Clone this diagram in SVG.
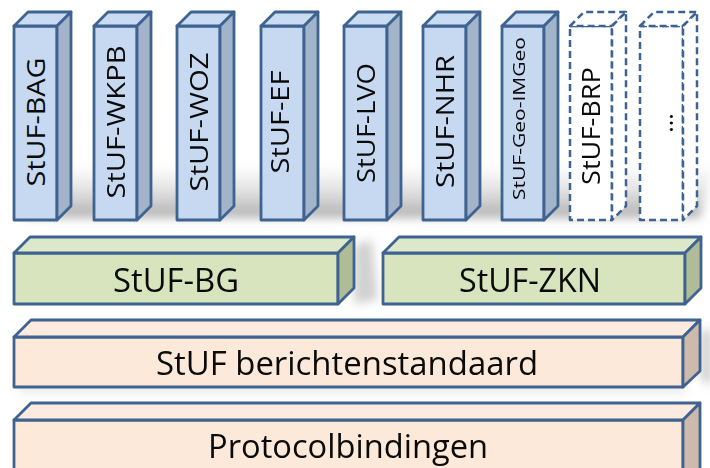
<svg xmlns="http://www.w3.org/2000/svg" width="710" height="468" viewBox="0 0 710 468">
  <defs>
    <style>
      .ln { stroke: #3F6390; stroke-width: 2.8; stroke-linejoin: round; }
      .dash { stroke: #3F6390; stroke-width: 2.5; stroke-dasharray: 7 4; fill: #FFFFFF; stroke-linejoin: round; }
      .cf { fill: #C6D9F1; }
      .ct { fill: #CADCF2; }
      .cs { fill: #A2B3CA; }
      .gf { fill: #D7E4BD; }
      .gt { fill: #DDE8C8; }
      .gs { fill: #B0BB98; }
      .pf { fill: #FDE9D9; }
      .pt { fill: #FCEBDE; }
      .ps { fill: #CDBAAC; }
      .t { font-family: "Open Sans", "Liberation Sans", sans-serif; fill: #0A0A0A; text-anchor: middle; }
      .ct25 { font-size: 25px; }
      .bt { font-size: 32px; }
    </style>
    <filter id="blur" x="-20%" y="-50%" width="140%" height="200%">
      <feGaussianBlur stdDeviation="5"/>
    </filter>
    <linearGradient id="shg" x1="0" y1="1" x2="0" y2="0">
      <stop offset="0" stop-color="#7a7a7a" stop-opacity="0.6"/>
      <stop offset="0.6" stop-color="#8a8a8a" stop-opacity="0.2"/>
      <stop offset="1" stop-color="#8a8a8a" stop-opacity="0"/>
    </linearGradient>
  </defs>

  <rect width="710" height="468" fill="#FFFFFF"/>

  <g id="shadows" filter="url(#blur)">
    <polygon points="24,218 700,218 712,165 44,165" fill="url(#shg)"/>
    <polygon points="354,245 372,240 378,300 354,304" fill="#9a9a9a" opacity="0.45"/>
    <polygon points="700,330 712,330 712,385 700,380" fill="#9a9a9a" opacity="0.45"/>
    <rect x="18" y="386" width="668" height="6" fill="#9a9a9a" opacity="0.3"/>
  </g>

  <g id="col-bag">
    <rect class="cf ln" x="14" y="26" width="43" height="194"/>
    <polygon class="ct ln" points="14,26 28,12 71,12 57,26"/>
    <polygon class="cs ln" points="57,26 71,12 71,206 57,220"/>
    <text class="t ct25" transform="translate(44.5,122) rotate(-90)" textLength="129" lengthAdjust="spacingAndGlyphs">StUF-BAG</text>
  </g>
  <g id="col-wkpb">
    <rect class="cf ln" x="94" y="26" width="43" height="194"/>
    <polygon class="ct ln" points="94,26 108,12 151,12 137,26"/>
    <polygon class="cs ln" points="137,26 151,12 151,206 137,220"/>
    <text class="t ct25" transform="translate(124.5,122) rotate(-90)" textLength="153" lengthAdjust="spacingAndGlyphs">StUF-WKPB</text>
  </g>
  <g id="col-woz">
    <rect class="cf ln" x="177" y="26" width="43" height="194"/>
    <polygon class="ct ln" points="177,26 191,12 234,12 220,26"/>
    <polygon class="cs ln" points="220,26 234,12 234,206 220,220"/>
    <text class="t ct25" transform="translate(207.5,122) rotate(-90)" textLength="139" lengthAdjust="spacingAndGlyphs">StUF-WOZ</text>
  </g>
  <g id="col-ef">
    <rect class="cf ln" x="261" y="26" width="43" height="194"/>
    <polygon class="ct ln" points="261,26 275,12 318,12 304,26"/>
    <polygon class="cs ln" points="304,26 318,12 318,206 304,220"/>
    <text class="t ct25" transform="translate(288.5,122) rotate(-90)" textLength="103" lengthAdjust="spacingAndGlyphs">StUF-EF</text>
  </g>
  <g id="col-lvo">
    <rect class="cf ln" x="344" y="26" width="43" height="194"/>
    <polygon class="ct ln" points="344,26 358,12 401,12 387,26"/>
    <polygon class="cs ln" points="387,26 401,12 401,206 387,220"/>
    <text class="t ct25" transform="translate(374.5,123) rotate(-90)" textLength="120" lengthAdjust="spacingAndGlyphs">StUF-LVO</text>
  </g>
  <g id="col-nhr">
    <rect class="cf ln" x="423" y="26" width="43" height="194"/>
    <polygon class="ct ln" points="423,26 437,12 480,12 466,26"/>
    <polygon class="cs ln" points="466,26 480,12 480,206 466,220"/>
    <text class="t ct25" transform="translate(453.5,121.5) rotate(-90)" textLength="133" lengthAdjust="spacingAndGlyphs">StUF-NHR</text>
  </g>
  <g id="col-geo-imgeo">
    <rect class="cf ln" x="502" y="26" width="42" height="194"/>
    <polygon class="ct ln" points="502,26 516,12 558,12 544,26"/>
    <polygon class="cs ln" points="544,26 558,12 558,206 544,220"/>
    <text class="t" font-size="17" transform="translate(525,118.5) rotate(-90)" textLength="163" lengthAdjust="spacingAndGlyphs">StUF-Geo-IMGeo</text>
  </g>
  <g id="col-brp">
    <rect class="dash" x="570" y="26" width="42" height="194"/>
    <polygon class="dash" points="570,26 584,12 626,12 612,26"/>
    <polygon class="dash" points="612,26 626,12 626,206 612,220"/>
    <text class="t ct25" transform="translate(600,126) rotate(-90)" textLength="118" lengthAdjust="spacingAndGlyphs">StUF-BRP</text>
  </g>
  <g id="col-more">
    <rect class="dash" x="640" y="26" width="43" height="194"/>
    <polygon class="dash" points="640,26 654,12 697,12 683,26"/>
    <polygon class="dash" points="683,26 697,12 697,206 683,220"/>
    <text class="t ct25" transform="translate(673,123) rotate(-90)">...</text>
  </g>

  <g id="bar-bg">
    <rect class="gf ln" x="14" y="253" width="324" height="51"/>
    <polygon class="gt ln" points="14,253 30,237 354,237 338,253"/>
    <polygon class="gs ln" points="338,253 354,237 354,288 338,304"/>
    <text class="t bt" x="176" y="292" textLength="126" lengthAdjust="spacingAndGlyphs">StUF-BG</text>
  </g>
  <g id="bar-zkn">
    <rect class="gf ln" x="383" y="253" width="302" height="51"/>
    <polygon class="gt ln" points="383,253 399,237 701,237 685,253"/>
    <polygon class="gs ln" points="685,253 701,237 701,288 685,304"/>
    <text class="t bt" x="530" y="292" textLength="142" lengthAdjust="spacingAndGlyphs">StUF-ZKN</text>
  </g>
  <g id="bar-berichtenstandaard">
    <rect class="pf ln" x="14" y="337" width="669" height="50"/>
    <polygon class="pt ln" points="14,337 31,320 700,320 683,337"/>
    <polygon class="ps ln" points="683,337 700,320 700,371 683,387"/>
    <text class="t bt" x="347" y="375" textLength="382" lengthAdjust="spacingAndGlyphs">StUF berichtenstandaard</text>
  </g>
  <g id="bar-protocolbindingen">
    <rect class="pf ln" x="14" y="420" width="669" height="60"/>
    <polygon class="pt ln" points="14,420 31,403 700,403 683,420"/>
    <polygon class="ps ln" points="683,420 700,403 700,470 683,480"/>
    <text class="t bt" x="348" y="458" textLength="280" lengthAdjust="spacingAndGlyphs">Protocolbindingen</text>
  </g>

  <g id="connectors"/>
</svg>
